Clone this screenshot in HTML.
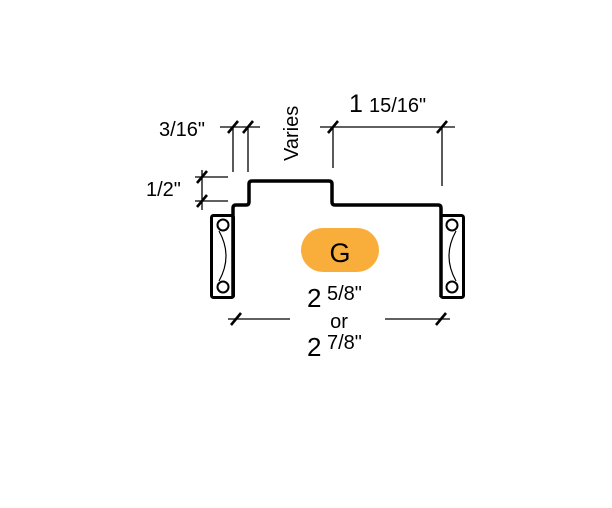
<!DOCTYPE html>
<html><head><style>body{margin:0;background:#fff}</style></head><body>
<svg width="612" height="503" viewBox="0 0 612 503" xmlns="http://www.w3.org/2000/svg" font-family="Liberation Sans, sans-serif">
<rect width="612" height="503" fill="#fff"/>
<g fill="none" stroke="#000" stroke-linejoin="round">
<path d="M233,297 V208 Q233,205 236,205 H246 Q249,205 249,202 V184 Q249,181 252,181 H329 Q332,181 332,184 V202 Q332,205 335,205 H438 Q441,205 441,208 V297" stroke-width="3.5"/>
<rect x="211.5" y="215.5" width="22" height="82" rx="2" stroke-width="3"/>
<rect x="441" y="215.5" width="22.5" height="82" rx="2" stroke-width="3"/>
<circle cx="223" cy="225" r="5.5" stroke-width="2"/>
<circle cx="223" cy="287" r="5.5" stroke-width="2"/>
<circle cx="452" cy="225" r="5.5" stroke-width="2"/>
<circle cx="452" cy="287" r="5.5" stroke-width="2"/>
<path d="M219,231 Q233,256 219,281" stroke-width="1.2"/>
<path d="M456,231 Q442,256 456,281" stroke-width="1.2"/>
<g stroke-width="1.3">
<line x1="220" y1="127" x2="260" y2="127"/>
<line x1="233" y1="127" x2="233" y2="172"/>
<line x1="248" y1="127" x2="248" y2="172"/>
<line x1="320" y1="127" x2="455" y2="127"/>
<line x1="333" y1="127" x2="333" y2="168"/>
<line x1="442" y1="127" x2="442" y2="186"/>
<line x1="195" y1="177" x2="228" y2="177"/>
<line x1="195" y1="201" x2="228" y2="201"/>
<line x1="202" y1="170" x2="202" y2="210"/>
<line x1="228" y1="319" x2="290" y2="319"/>
<line x1="385" y1="319" x2="450" y2="319"/>
</g>
<g stroke-width="2.6">
<line x1="228" y1="133" x2="238" y2="121"/>
<line x1="243" y1="133" x2="253" y2="121"/>
<line x1="328" y1="133" x2="338" y2="121"/>
<line x1="437" y1="133" x2="447" y2="121"/>
<line x1="197" y1="183" x2="207" y2="171"/>
<line x1="197" y1="207" x2="207" y2="195"/>
<line x1="231" y1="325" x2="241" y2="313"/>
<line x1="436" y1="325" x2="446" y2="313"/>
</g>
</g>
<rect x="301" y="228" width="78" height="44" rx="22" fill="#f9ae3c"/>
<text x="340" y="262" font-size="27" text-anchor="middle">G</text>
<text x="159" y="136" font-size="20">3/16"</text>
<text x="146" y="196" font-size="20">1/2"</text>
<text transform="translate(298,161) rotate(-90)" font-size="20">Varies</text>
<text x="349" y="112" font-size="25">1</text>
<text x="369" y="112" font-size="20">15/16"</text>
<text x="307" y="307" font-size="26">2</text>
<text x="327" y="300" font-size="20">5/8"</text>
<text x="339" y="328" font-size="20" text-anchor="middle">or</text>
<text x="307" y="356" font-size="26">2</text>
<text x="327" y="349" font-size="20">7/8"</text>
</svg>
</body></html>
